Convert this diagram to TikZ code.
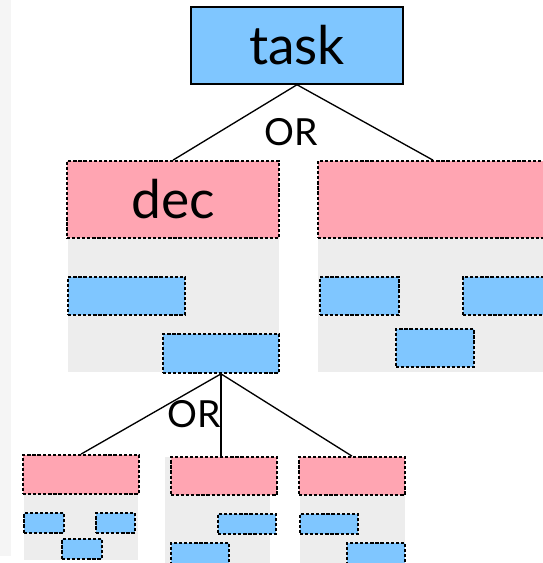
\documentclass[tikz,border=0pt]{standalone}
\usepackage{fontspec}
\setmainfont{Lato}
\definecolor{taskblue}{RGB}{127,198,255}
\definecolor{decpink}{RGB}{255,165,178}
\definecolor{panelgray}{RGB}{237,237,237}
\definecolor{stripgray}{RGB}{245,245,245}
\tikzset{
  sub/.style={draw=black, dash pattern=on 2.4pt off 1.4pt, line width=1.3pt, inner sep=0pt},
  subtask/.style={sub, fill=taskblue},
  subdec/.style={sub, fill=decpink},
  wh/.style 2 args={minimum width=#1*0.75pt, minimum height=#2*0.75pt},
  link/.style={line width=1pt},
  orlabel/.style={font=\fontsize{28}{32}\selectfont, inner sep=0pt}
}
\begin{document}
\begin{tikzpicture}[x=0.75pt, y=-0.75pt]
  \useasboundingbox (0,0) rectangle (542,563);
  % strip on the left edge
  \fill[stripgray] (0,0) rectangle (11,556);

  % Gray panels behind each decomposition
  \fill[panelgray] (68,238) rectangle (279,372);
  \fill[panelgray] (318,238) rectangle (548,372);
  \fill[panelgray] (23.5,494) rectangle (138,560);
  \fill[panelgray] (165,457) rectangle (270,565);
  \fill[panelgray] (300,495) rectangle (405,565);

  % Root task
  \node[draw, fill=taskblue, line width=1.1pt, wh={212}{77},
        font=\fontsize{40}{48}\selectfont] (task) at (297,45.5) {task};

  % First level: two decompositions
  \node[subdec, wh={212}{77}, font=\fontsize{40}{48}\selectfont] (dec) at (173,199.5) {dec};
  \node[subdec, wh={230}{77}] (dec2) at (433,199.5) {};

  % subtasks of dec
  \node[subtask, wh={117}{38}] (a1) at (126.5,296) {};
  \node[subtask, wh={116}{39}] (a2) at (221,353.5) {};
  % subtasks of the other decomposition
  \node[subtask, wh={79}{38}] (c1) at (359.5,296) {};
  \node[subtask, wh={85}{38}] (c2) at (505.5,296) {};
  \node[subtask, wh={78}{38}] (c3) at (435,348) {};

  % Second level: decompositions of a2
  \node[subdec, wh={116}{39}] (p1) at (81,474.5) {};
  \node[subdec, wh={106}{38}] (p2) at (224,476) {};
  \node[subdec, wh={106}{38}] (p3) at (352,476) {};

  % small subtasks
  \node[subtask, wh={40}{20}] (q1) at (44,523) {};
  \node[subtask, wh={39}{20}] (q2) at (115.5,523) {};
  \node[subtask, wh={40}{20}] (q3) at (82,549) {};
  \node[subtask, wh={58}{20}] (r1) at (247,524) {};
  \node[subtask, wh={58}{22}] (r2) at (200,554) {};
  \node[subtask, wh={58}{20}] (s1) at (329,524) {};
  \node[subtask, wh={58}{22}] (s2) at (376,554) {};

  % OR links
  \draw[link] (task.south) -- (dec.north);
  \draw[link] (task.south) -- (dec2.north);
  \node[orlabel] (or1) at (291,132) {OR};

  \draw[link] (a2.south) -- (p1.north);
  \draw[link] (a2.south) -- (a2.south |- p2.north);
  \draw[link] (a2.south) -- (p3.north);
  \node[orlabel] (or2) at (194,414) {OR};
\end{tikzpicture}
\end{document}
